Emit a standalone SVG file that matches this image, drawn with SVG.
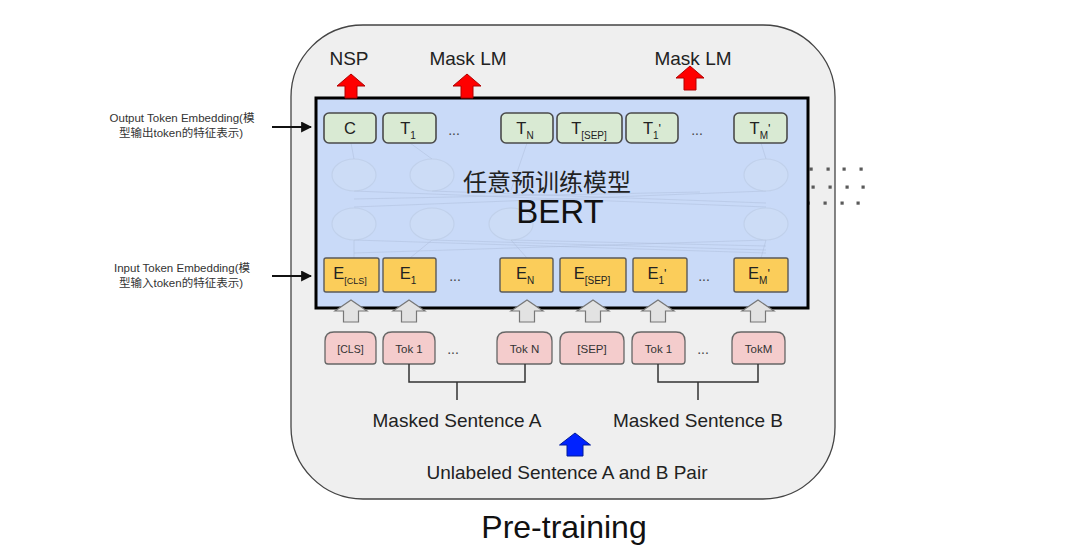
<svg xmlns="http://www.w3.org/2000/svg" width="1080" height="555" viewBox="0 0 1080 555">
<style>
text{font-family:"Liberation Sans",Arial,"Noto Sans CJK SC",sans-serif;fill:#222}
.lbl{font-size:11.5px;fill:#333;text-anchor:middle}
.big{font-size:19px;text-anchor:middle}
.tg{fill:#d9ead3;stroke:#4a4a4a;stroke-width:1.6}
.eo{fill:#fbcd5a;stroke:#5a5a5a;stroke-width:1.4}
.pk{fill:#f4cccc;stroke:#666;stroke-width:1.3}
.tt{font-size:16.5px;text-anchor:middle;fill:#222}
.tk{font-size:11.5px;text-anchor:middle;fill:#333}
.dots{font-size:14px;text-anchor:middle;fill:#444}
.red{fill:#ff0000;stroke:#b00000;stroke-width:1}
.gray{fill:#e2e2e2;stroke:#777;stroke-width:1.2}
.blu{fill:#0022ff;stroke:#001a99;stroke-width:1}
.conn{stroke:#333;stroke-width:1.5;fill:none}
.net{stroke:#aabbd6;stroke-width:1;fill:none;opacity:0.45}
.ell{stroke:#b9c8de;stroke-width:1.1;fill:#cfdef6;opacity:0.5}
.gd{fill:#5a5a5a}
</style>
<defs>
<path id="redA" d="M0,0 L14,12 L6,12 L6,24 L-6,24 L-6,12 L-14,12 Z"/>
<path id="grayA" d="M0,0 L16,11 L7.5,11 L7.5,22 L-7.5,22 L-7.5,11 L-16,11 Z"/>
<marker id="ah" viewBox="0 0 10 10" refX="9" refY="5" markerWidth="5" markerHeight="5" orient="auto"><path d="M0,0 L10,5 L0,10 Z" fill="#111"/></marker>
</defs>
<rect width="1080" height="555" fill="#fff"/>
<g id="outer"><rect x="291" y="25" width="544" height="474" rx="72" ry="72" fill="#efefef" stroke="#444" stroke-width="1.3"/></g>
<g id="grid">
<rect class="gd" x="809.5" y="167.5" width="3.2" height="3.2"/><rect class="gd" x="826.5" y="167.5" width="3.2" height="3.2"/><rect class="gd" x="842.5" y="167.5" width="3.2" height="3.2"/><rect class="gd" x="859.5" y="167.5" width="3.2" height="3.2"/>
<rect class="gd" x="811.5" y="185.5" width="3.2" height="3.2"/><rect class="gd" x="828.5" y="185.5" width="3.2" height="3.2"/><rect class="gd" x="845.5" y="185.5" width="3.2" height="3.2"/><rect class="gd" x="861.5" y="185.5" width="3.2" height="3.2"/>
<rect class="gd" x="806.5" y="201.5" width="3.2" height="3.2"/><rect class="gd" x="823.5" y="201.5" width="3.2" height="3.2"/><rect class="gd" x="840.5" y="201.5" width="3.2" height="3.2"/><rect class="gd" x="856.5" y="201.5" width="3.2" height="3.2"/>
</g>
<g id="bert">
<rect x="316" y="98" width="492" height="210" fill="#c9daf8" stroke="#000" stroke-width="3"/>
<g id="net">
<line class="net" x1="351" y1="143" x2="354" y2="159"/><line class="net" x1="410" y1="143" x2="432" y2="159"/><line class="net" x1="527" y1="143" x2="511" y2="190"/><line class="net" x1="761" y1="143" x2="766" y2="159"/>
<line class="net" x1="354" y1="191" x2="766" y2="207"/><line class="net" x1="354" y1="207" x2="766" y2="191"/><line class="net" x1="432" y1="191" x2="766" y2="203"/><line class="net" x1="354" y1="199" x2="700" y2="192"/>
<line class="net" x1="354" y1="240" x2="766" y2="253"/><line class="net" x1="354" y1="253" x2="766" y2="240"/><line class="net" x1="432" y1="240" x2="766" y2="250"/><line class="net" x1="511" y1="240" x2="766" y2="246"/>
<line class="net" x1="354" y1="240" x2="354" y2="258"/><line class="net" x1="432" y1="240" x2="410" y2="258"/><line class="net" x1="511" y1="240" x2="527" y2="258"/><line class="net" x1="766" y1="240" x2="761" y2="258"/>
<ellipse class="ell" cx="354" cy="175" rx="22" ry="16"/><ellipse class="ell" cx="432" cy="175" rx="22" ry="16"/><ellipse class="ell" cx="766" cy="175" rx="22" ry="16"/>
<ellipse class="ell" cx="354" cy="224" rx="22" ry="16"/><ellipse class="ell" cx="432" cy="224" rx="22" ry="16"/><ellipse class="ell" cx="511" cy="224" rx="22" ry="16"/><ellipse class="ell" cx="766" cy="224" rx="22" ry="16"/>
</g>
<text x="547" y="191" style="font-size:24px;text-anchor:middle;fill:#222">任意预训练模型</text>
<text x="560" y="223" style="font-size:33px;text-anchor:middle;fill:#111">BERT</text>
</g>
<g id="outputs">
<g id="t-c"><rect class="tg" x="324" y="113" width="52" height="30" rx="5"/><text class="tt" x="350" y="134">C</text></g>
<g id="t-1"><rect class="tg" x="383" y="113" width="53" height="30" rx="5"/><text class="tt" x="408" y="134">T<tspan font-size="10" dy="5">1</tspan></text></g>
<text class="dots" x="454" y="135">...</text>
<g id="t-n"><rect class="tg" x="501" y="113" width="52" height="30" rx="5"/><text class="tt" x="525" y="134">T<tspan font-size="10" dy="5">N</tspan></text></g>
<g id="t-sep"><rect class="tg" x="557" y="113" width="65" height="30" rx="5"/><text class="tt" x="589" y="134">T<tspan font-size="10" dy="5">[SEP]</tspan></text></g>
<g id="t-1b"><rect class="tg" x="626" y="113" width="52" height="30" rx="5"/><text class="tt" x="652" y="134">T<tspan font-size="10" dy="5">1</tspan><tspan dy="-6" font-size="13">'</tspan></text></g>
<text class="dots" x="697" y="135">...</text>
<g id="t-m"><rect class="tg" x="734" y="113" width="53" height="30" rx="5"/><text class="tt" x="760" y="134">T<tspan font-size="10" dy="5">M</tspan><tspan dy="-6" font-size="13">'</tspan></text></g>
</g>
<g id="inputs-emb">
<g id="e-cls"><rect class="eo" x="324" y="258" width="55" height="34" rx="2"/><text class="tt" x="350" y="279">E<tspan font-size="9" dy="5">[CLS]</tspan></text></g>
<g id="e-1"><rect class="eo" x="383" y="258" width="53" height="34" rx="2"/><text class="tt" x="408" y="279">E<tspan font-size="10" dy="5">1</tspan></text></g>
<text class="dots" x="455" y="281">...</text>
<g id="e-n"><rect class="eo" x="500" y="258" width="53" height="34" rx="2"/><text class="tt" x="525" y="279">E<tspan font-size="10" dy="5">N</tspan></text></g>
<g id="e-sep"><rect class="eo" x="560" y="258" width="66" height="34" rx="2"/><text class="tt" x="592" y="279">E<tspan font-size="10" dy="5">[SEP]</tspan></text></g>
<g id="e-1b"><rect class="eo" x="633" y="258" width="54" height="34" rx="2"/><text class="tt" x="657" y="279">E<tspan font-size="10" dy="5">1</tspan><tspan dy="-6" font-size="13">'</tspan></text></g>
<text class="dots" x="704" y="281">...</text>
<g id="e-m"><rect class="eo" x="734" y="258" width="54" height="34" rx="2"/><text class="tt" x="759" y="279">E<tspan font-size="10" dy="5">M</tspan><tspan dy="-6" font-size="13">'</tspan></text></g>
</g>
<g id="tokens">
<g id="tok-cls"><path class="pk" d="M325,341 Q325,332 334,332 H367 Q376,332 376,341 V361 Q376,364 373,364 H328 Q325,364 325,361 Z"/><text class="tk" x="350.5" y="352.5" style="font-size:10.5px">[CLS]</text></g>
<g id="tok-1"><path class="pk" d="M383,341 Q383,332 392,332 H426 Q435,332 435,341 V361 Q435,364 432,364 H386 Q383,364 383,361 Z"/><text class="tk" x="409" y="352.5">Tok 1</text></g>
<text class="dots" x="453" y="354">...</text>
<g id="tok-n"><path class="pk" d="M497,341 Q497,332 506,332 H543 Q552,332 552,341 V361 Q552,364 549,364 H500 Q497,364 497,361 Z"/><text class="tk" x="524.5" y="352.5">Tok N</text></g>
<g id="tok-sep"><path class="pk" d="M560,341 Q560,332 569,332 H615 Q624,332 624,341 V361 Q624,364 621,364 H563 Q560,364 560,361 Z"/><text class="tk" x="592" y="352.5">[SEP]</text></g>
<g id="tok-1b"><path class="pk" d="M632,341 Q632,332 641,332 H676 Q685,332 685,341 V361 Q685,364 682,364 H635 Q632,364 632,361 Z"/><text class="tk" x="658.5" y="352.5">Tok 1</text></g>
<text class="dots" x="703" y="354">...</text>
<g id="tok-m"><path class="pk" d="M732,341 Q732,332 741,332 H776 Q785,332 785,341 V361 Q785,364 782,364 H735 Q732,364 732,361 Z"/><text class="tk" x="758.5" y="352.5">TokM</text></g>
</g>
<g id="connectors">
<path class="conn" d="M409,364 V382 H525 V364 M457,382 V400"/>
<path class="conn" d="M658,364 V382 H758 V364 M698,382 V400"/>
<use href="#grayA" class="gray" x="351" y="300"/>
<use href="#grayA" class="gray" x="409" y="300"/>
<use href="#grayA" class="gray" x="527" y="300"/>
<use href="#grayA" class="gray" x="593" y="300"/>
<use href="#grayA" class="gray" x="658" y="300"/>
<use href="#grayA" class="gray" x="758" y="300"/>
<use href="#redA" class="red" x="351" y="74"/>
<use href="#redA" class="red" x="467" y="74"/>
<use href="#redA" class="red" x="690" y="66"/>
<path class="blu" d="M575,433 L590.5,445 L583,445 L583,456 L567,456 L567,445 L559.5,445 Z"/>
<line x1="272" y1="127" x2="311" y2="127" stroke="#111" stroke-width="2.2" marker-end="url(#ah)"/>
<line x1="272" y1="276" x2="311" y2="276" stroke="#111" stroke-width="2.2" marker-end="url(#ah)"/>
</g>
<g id="labels">
<text class="big" x="349" y="65">NSP</text>
<text class="big" x="468" y="65">Mask LM</text>
<text class="big" x="693" y="65">Mask LM</text>
<text class="big" x="457" y="427">Masked Sentence A</text>
<text class="big" x="698" y="427">Masked Sentence B</text>
<text class="big" x="567" y="479">Unlabeled Sentence A and B Pair</text>
<text x="564" y="538" style="font-size:32px;text-anchor:middle;fill:#111">Pre-training</text>
<text class="lbl" x="182" y="122">Output Token Embedding(模</text>
<text class="lbl" x="181" y="137">型输出token的特征表示)</text>
<text class="lbl" x="182" y="272">Input Token Embedding(模</text>
<text class="lbl" x="181" y="287">型输入token的特征表示)</text>
</g>
</svg>
